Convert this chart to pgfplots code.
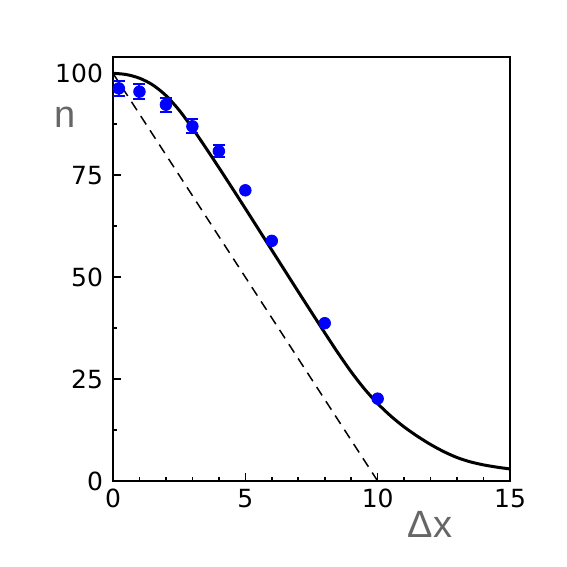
\documentclass[border=0pt]{standalone}
\usepackage{pgfplots}
\pgfplotsset{compat=1.18}
\usepackage{fontspec}
\setmainfont{Liberation Sans}
\newfontfamily\tickfont{DejaVu Sans}

\begin{document}
\begin{tikzpicture}
\useasboundingbox (0,0) rectangle (283.5pt,283.5pt);
\begin{axis}[
    at={(56.5pt,43pt)}, anchor=south west,
    scale only axis,
    width=198.5pt, height=212pt,
    xmin=0, xmax=15, ymin=0, ymax=104,
    xtick={0,5,10,15}, ytick={0,25,50,75,100},
    minor x tick num=4, minor y tick num=1,
    tick pos=left, tick align=inside,
    major tick length=4pt, minor tick length=2.2pt,
    axis line style={line width=1pt},
    every tick/.style={black, line width=0.8pt},
    tick label style={font=\tickfont\fontsize{12.5}{14}\selectfont},
    /pgf/number format/assume math mode=true,
    xticklabel style={yshift=-0.5pt},
    yticklabel style={xshift=-1.5pt},
    clip=false,
]
% model curve
\addplot[black, line width=1.5pt, smooth] coordinates {
    (0,100) (0.5,99.7) (1,98.8) (1.5,97.15) (2,94.55) (2.5,90.95) (3,86.55)
    (3.5,81.78) (4,76.88) (4.5,71.88) (5,66.83) (5.5,61.73) (6,56.63)
    (6.5,51.53) (7,46.43) (7.5,41.38) (8,36.35) (8.5,31.42) (9,26.77)
    (9.5,22.59) (10,18.99) (10.5,15.91) (11,13.26) (11.5,10.98) (12,8.95)
    (12.5,7.2) (13,5.75) (13.5,4.7) (14,3.95) (14.5,3.4) (15,2.95)
};
% linear reference
\addplot[black, line width=0.75pt, dash pattern=on 5pt off 3.5pt] coordinates {
    (0,100) (10,0)
};
% measured points with visible errors
\addplot[blue, only marks, mark=*, mark size=2.9pt,
    error bars/.cd, y dir=both, y explicit,
    error bar style={line width=1pt, blue},
    error mark options={rotate=90, mark size=3pt, line width=1pt, blue}]
    coordinates {
    (0.22,96.3) +- (0,1.8)
    (1,95.5) +- (0,1.9)
    (2,92.3) +- (0,1.75)
    (3,87.0) +- (0,1.7)
    (4,80.9) +- (0,1.55)
};
% measured points, errors hidden by the marks
\addplot[blue, only marks, mark=*, mark size=2.9pt] coordinates {
    (5,71.3) (6,58.9) (8,38.7) (10,20.2)
};
\end{axis}
\node[text=black!60, font=\fontsize{19}{21}\selectfont] at (32.5pt,225pt) {n};
\node[text=black!60, font=\fontsize{19}{21}\selectfont] at (215pt,21.5pt) {Δx};
\end{tikzpicture}
\end{document}
